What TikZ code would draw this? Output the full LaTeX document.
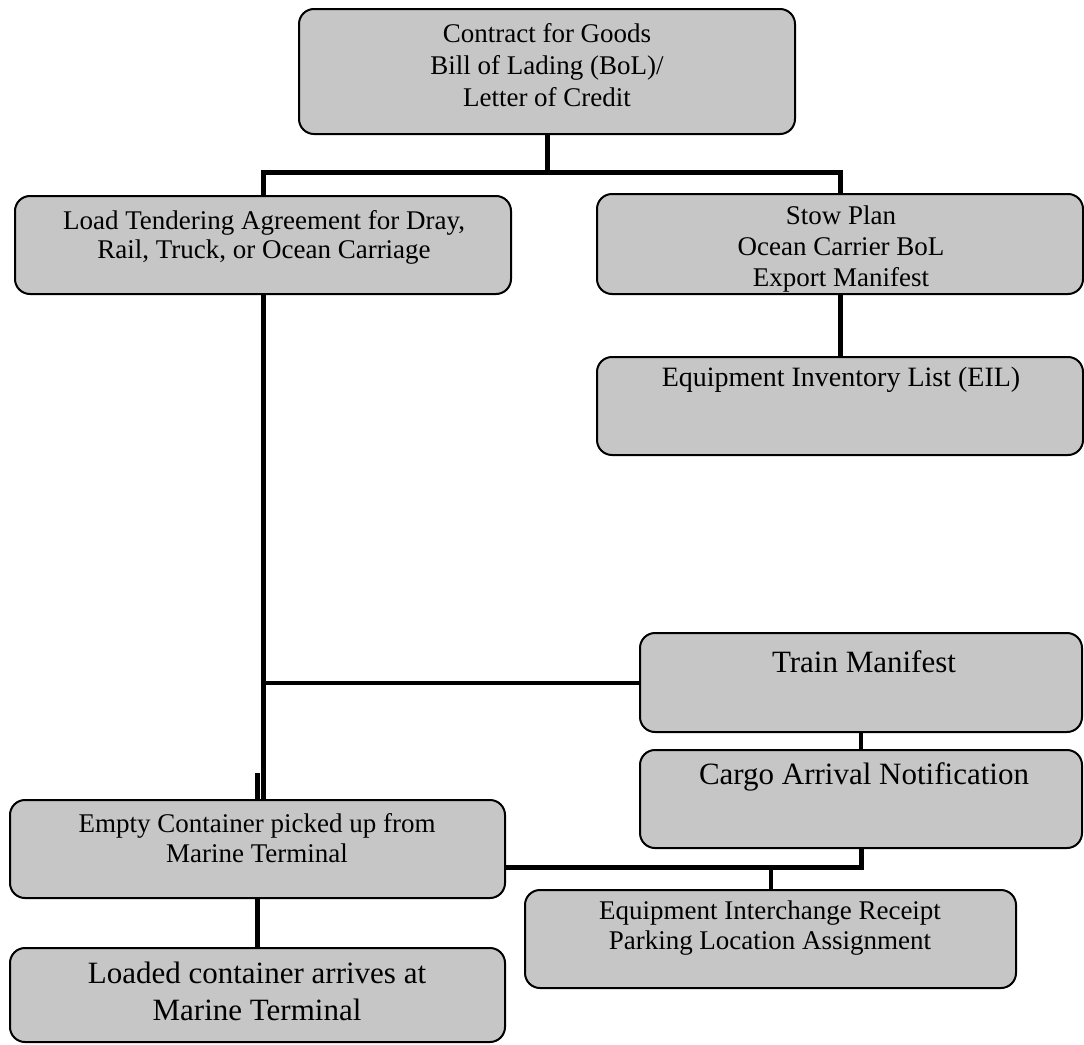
\documentclass[tikz,border=0pt]{standalone}
\usepackage{fontspec}
\setmainfont{Liberation Serif}
\usetikzlibrary{calc}
\definecolor{boxgray}{RGB}{198,198,198}
\tikzset{
  docbox/.style={draw=black, line width=2pt, fill=boxgray, rounded corners=15pt,
    inner sep=0pt},
  doctext/.style={align=center, inner sep=0pt, font=\fontsize{27}{30}\selectfont},
  bigtext/.style={align=center, inner sep=0pt, font=\fontsize{31}{37}\selectfont},
  conn/.style={draw=black, line width=5pt},
  thinconn/.style={draw=black, line width=4pt}
}
\begin{document}
\begin{tikzpicture}[x=1pt, y=-1pt]
\useasboundingbox (0,0) rectangle (1084,1044);

% document boxes
\node[docbox, minimum width=496pt, minimum height=125pt] (top)    at (547,71.5) {};
\node[docbox, minimum width=496pt, minimum height=98pt]  (load)   at (263,245) {};
\node[docbox, minimum width=486pt, minimum height=100pt] (stow)   at (840,244) {};
\node[docbox, minimum width=486pt, minimum height=98pt]  (eil)    at (840,406) {};
\node[docbox, minimum width=442pt, minimum height=99pt]  (train)  at (861,682.5) {};
\node[docbox, minimum width=442pt, minimum height=98pt]  (cargo)  at (861,799) {};
\node[docbox, minimum width=495pt, minimum height=98pt]  (empty)  at (257.5,849) {};
\node[docbox, minimum width=491pt, minimum height=98pt]  (equip)  at (770.5,939) {};
\node[docbox, minimum width=495pt, minimum height=94pt]  (loaded) at (257.5,995) {};

% box labels
\node[doctext, font=\fontsize{27}{32}\selectfont] (top-t) at (547,65)
  {Contract for Goods\\Bill of Lading (BoL)/\\Letter of Credit};
\node[doctext, font=\fontsize{27}{29}\selectfont] (load-t) at (264,237)
  {Load Tendering Agreement for Dray,\\Rail, Truck, or Ocean Carriage};
\node[doctext, font=\fontsize{27}{31}\selectfont] (stow-t) at (841,249)
  {Stow Plan\\Ocean Carrier BoL\\Export Manifest};
\node[doctext, font=\fontsize{28}{32}\selectfont] (eil-t) at (841,380)
  {Equipment Inventory List (EIL)};
\node[bigtext] (train-t) at (864,662) {Train Manifest};
\node[bigtext] (cargo-t) at (864,777) {Cargo Arrival Notification};
\node[doctext] (empty-t) at (257,838)
  {Empty Container picked up from\\Marine Terminal};
\node[doctext] (equip-t) at (770,928)
  {Equipment Interchange Receipt\\Parking Location Assignment};
\node[bigtext] (loaded-t) at (257,991)
  {Loaded container arrives at\\Marine Terminal};

% connectors
\coordinate (bus) at (547,172);
\draw[conn] (top.south) -- (bus);
\draw[conn] (load.north) |- (bus) -| (stow.north);
\draw[conn] (stow.south) -- (eil.north);
\draw[conn] (load.south) -- (load.south |- empty.north);
\fill[black] (255,773) rectangle (260,800);
\draw[thinconn] (train.west) -- (train.west -| load.south);
\draw[thinconn] (train.south) -- (cargo.north);
\coordinate (jn) at (770.5,867);
\draw[conn] (cargo.south) |- (jn) -- (jn -| empty.east);
\draw[thinconn] (jn) -- (equip.north);
\draw[conn] (empty.south) -- (loaded.north);
\end{tikzpicture}
\end{document}
